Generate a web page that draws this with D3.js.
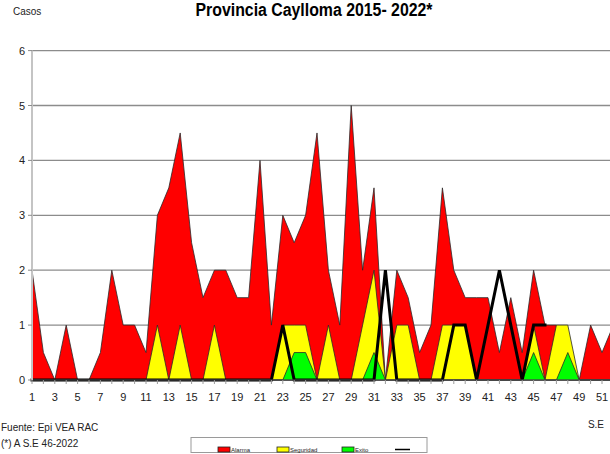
<!DOCTYPE html>
<html>
<head>
<meta charset="utf-8">
<script src="https://cdn.jsdelivr.net/npm/d3@7"></script>
<style>
	body { margin: 0; background: #fff; }
	svg { display: block; }
	text { font-family: "Liberation Sans Narrow", "Arial Narrow", "Liberation Sans", Arial, sans-serif; fill: #222; }
</style>
</head>
<body>
<svg id="chart" width="610" height="454"></svg>
<script>
// semanas epidemiologicas 1..52
var weeks = d3.range(1, 53);
var alarma = [2, 0.5, 0, 1, 0, 0, 0.5, 2, 1, 1, 0.5, 3, 3.5, 4.5, 2.5, 1.5, 2, 2, 1.5, 1.5,
	4, 1, 3, 2.5, 3, 4.5, 2, 1, 5, 2, 3.5, 0, 2, 1.5, 0.5, 1, 3.5, 2, 1.5, 1.5,
	1.5, 0.5, 1.5, 0.5, 2, 1, 1, 0, 0, 1, 0.5, 1];
var seguridad = [0, 0, 0, 0, 0, 0, 0, 0, 0, 0, 0, 1, 0, 1, 0, 0, 1, 0, 0, 0,
	0, 0, 1, 1, 1, 0, 1, 0, 0, 1, 2, 0, 1, 1, 0, 0, 1, 1, 1, 0,
	0, 0, 0, 0, 1, 0, 1, 1, 0, 0, 0, 0];
var exito = [0, 0, 0, 0, 0, 0, 0, 0, 0, 0, 0, 0, 0, 0, 0, 0, 0, 0, 0, 0,
	0, 0, 0, 0.5, 0.5, 0, 0, 0, 0, 0, 0.5, 0, 0, 0, 0, 0, 0, 0, 0, 0,
	0, 0, 0, 0, 0.5, 0, 0, 0.5, 0, 0, 0, 0];
// casos 2022 hasta S.E 46
var casos2022 = [0, 0, 0, 0, 0, 0, 0, 0, 0, 0, 0, 0, 0, 0, 0, 0, 0, 0, 0, 0,
	0, 0, 1, 0, 0, 0, 0, 0, 0, 0, 0, 2, 0, 0, 0, 0, 0, 1, 1, 0,
	1, 2, 1, 0, 1, 1];
var yTicks = [0, 1, 2, 3, 4, 5, 6];
var xLabels = d3.range(1, 52, 2);
var legendItems = [
	{ name: "Alarma", color: "#ff0000" },
	{ name: "Seguridad", color: "#ffff00" },
	{ name: "Exito", color: "#00ff00" },
	{ name: "", color: null }
];

(function(){
	var svg = d3.select("#chart");
	var x = d3.scaleLinear().domain([1, 52]).range([32, 613.4]);
	var y = d3.scaleLinear().domain([0, 6]).range([380, 50.6]);
	var right = 610;

	// grid
	svg.append("g").selectAll("line")
		.data(yTicks.filter(function(d){ return d > 0; }))
		.join("line")
		.attr("x1", x(1)).attr("x2", right)
		.attr("y1", function(d){ return y(d); }).attr("y2", function(d){ return y(d); })
		.style("stroke", "#8c8c8c").style("stroke-width", 1.3);

	var plot = svg.append("g");
	var area = function(vals) {
		return d3.area()
			.x(function(d, i){ return x(weeks[i]); })
			.y0(y(0))
			.y1(function(d){ return y(d); })(vals);
	};
	[[alarma, "#ff0000"], [seguridad, "#ffff00"], [exito, "#00ff00"]].forEach(function(s) {
		plot.append("path")
			.attr("d", area(s[0]))
			.style("fill", s[1])
			.style("stroke", "#2a2a2a")
			.style("stroke-width", 0.8)
			.style("stroke-linejoin", "round");
	});

	// x axis
	svg.append("line")
		.attr("x1", x(1)).attr("x2", right)
		.attr("y1", y(0)).attr("y2", y(0))
		.style("stroke", "#555").style("stroke-width", 1.2);
	svg.append("g").selectAll("line")
		.data(weeks)
		.join("line")
		.attr("x1", function(d){ return x(d); }).attr("x2", function(d){ return x(d); })
		.attr("y1", y(0)).attr("y2", y(0) + 4)
		.style("stroke", "#9a9a9a").style("stroke-width", 1);

	plot.append("path")
		.attr("d", d3.line()
			.x(function(d, i){ return x(weeks[i]); })
			.y(function(d){ return y(d); })(casos2022))
		.style("fill", "none")
		.style("stroke", "#000")
		.style("stroke-width", 3)
		.style("stroke-linecap", "square");

	// y axis
	svg.append("line")
		.attr("x1", x(1)).attr("x2", x(1))
		.attr("y1", y(0)).attr("y2", y(6))
		.style("stroke", "#c4c4c4").style("stroke-width", 2);
	svg.append("g").selectAll("line")
		.data(yTicks)
		.join("line")
		.attr("x1", x(1) - 4).attr("x2", x(1))
		.attr("y1", function(d){ return y(d); }).attr("y2", function(d){ return y(d); })
		.style("stroke", "#8c8c8c").style("stroke-width", 1);
	svg.append("g").selectAll("text")
		.data(yTicks)
		.join("text")
		.attr("x", 25).attr("y", function(d){ return y(d) + 4; })
		.attr("text-anchor", "end")
		.style("font-size", "11px")
		.text(function(d){ return d; });

	svg.append("g").selectAll("text")
		.data(xLabels)
		.join("text")
		.attr("x", function(d){ return x(d); }).attr("y", 401)
		.attr("text-anchor", "middle")
		.style("font-size", "11px")
		.text(function(d){ return d; });

	// titles
	svg.append("text")
		.attr("x", 314).attr("y", 16)
		.attr("text-anchor", "middle")
		.attr("textLength", 237).attr("lengthAdjust", "spacingAndGlyphs")
		.style("font-size", "18px").style("font-weight", "bold").style("fill", "#000")
		.text("Provincia Caylloma 2015- 2022*");
	svg.append("text")
		.attr("x", 13).attr("y", 15)
		.style("font-size", "10px")
		.text("Casos");
	svg.append("text")
		.attr("x", 604).attr("y", 428)
		.attr("text-anchor", "end")
		.style("font-size", "10px")
		.text("S.E");
	svg.append("text")
		.attr("x", 1).attr("y", 431)
		.style("font-size", "10px")
		.text("Fuente:  Epi VEA RAC");
	svg.append("text")
		.attr("x", 1).attr("y", 447)
		.style("font-size", "10px")
		.text("(*) A S.E  46-2022");

	// legend
	var legend = svg.append("g");
	legend.append("rect")
		.attr("x", 191).attr("y", 437.5).attr("width", 236).attr("height", 15)
		.style("fill", "#fff").style("stroke", "#9a9a9a").style("stroke-width", 1);
	var slots = [218, 277, 342, 395];
	legendItems.forEach(function(d, i) {
		if (d.color) {
			legend.append("rect")
				.attr("x", slots[i]).attr("y", 447).attr("width", 12).attr("height", 5)
				.style("fill", d.color).style("stroke", "#222").style("stroke-width", 0.8);
			legend.append("text")
				.attr("x", slots[i] + 13).attr("y", 452)
				.style("font-size", "6px")
				.text(d.name);
		} else {
			legend.append("line")
				.attr("x1", slots[i]).attr("x2", slots[i] + 15)
				.attr("y1", 449.5).attr("y2", 449.5)
				.style("stroke", "#000").style("stroke-width", 1.5);
		}
	});
})();
</script>
</body>
</html>
